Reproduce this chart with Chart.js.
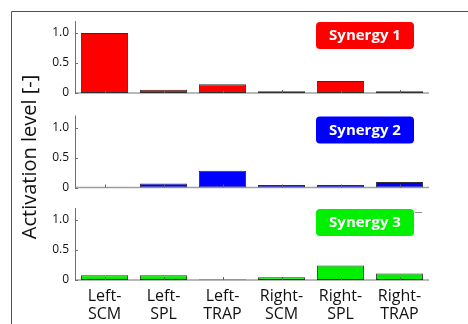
<!DOCTYPE html>
<html>
<head>
<meta charset="utf-8">
<script src="https://cdn.jsdelivr.net/npm/chart.js@4/dist/chart.umd.min.js"></script>
<style>
  html, body { margin: 0; padding: 0; background: #fff; }
  #wrap { position: relative; width: 468px; height: 324px; overflow: hidden; }
  #wrap canvas { position: absolute; left: 0; top: 0; }
</style>
</head>
<body>
<div id="wrap">
  <canvas id="c1" width="468" height="324"></canvas>
  <canvas id="c2" width="468" height="324"></canvas>
  <canvas id="c3" width="468" height="324"></canvas>
</div>
<script>
// Muscles along the x axis (two-line labels)
const muscles = [['Left-', 'SCM'], ['Left-', 'SPL'], ['Left-', 'TRAP'], ['Right-', 'SCM'], ['Right-', 'SPL'], ['Right-', 'TRAP']];

// Activation level of each muscle for each synergy
const synergy1 = [1.00, 0.055, 0.145, 0.03, 0.20, 0.03];
const synergy2 = [0.003, 0.065, 0.28, 0.04, 0.04, 0.09];
const synergy3 = [0.08, 0.08, 0.01, 0.045, 0.24, 0.11];

const synergyNames = ['Synergy 1', 'Synergy 2', 'Synergy 3'];
const yTicks = [0, 0.5, 1.0];
const yTitle = 'Activation level [-]';

const FONT = '"Open Sans", "Noto Sans", sans-serif';
const PLOT_LEFT = 75, PLOT_RIGHT = 429;

// Per-panel vertical placement: top and bottom of the plot area
const panels = [
  { id: 'c1', data: synergy1, color: '#ff0000', top: 21, bottom: 93, name: synergyNames[0], last: false },
  { id: 'c2', data: synergy2, color: '#0000ff', top: 115.5, bottom: 187.5, name: synergyNames[1], last: false },
  { id: 'c3', data: synergy3, color: '#00f000', top: 208, bottom: 280, name: synergyNames[2], last: true }
];

// Draws axis lines, inward ticks and the synergy badge
const panelDecor = {
  id: 'panelDecor',
  beforeDatasetsDraw(chart) {
    const ctx = chart.ctx;
    const y = chart.scales.y;
    const a = chart.chartArea;
    ctx.save();
    // baseline
    ctx.strokeStyle = '#a0a0a0';
    ctx.lineWidth = 1.6;
    ctx.beginPath();
    ctx.moveTo(a.left, y.getPixelForValue(0));
    ctx.lineTo(a.right, y.getPixelForValue(0));
    ctx.stroke();
    ctx.restore();
  },
  afterDatasetsDraw(chart, args, opts) {
    const ctx = chart.ctx;
    const x = chart.scales.x, y = chart.scales.y;
    const a = chart.chartArea;
    ctx.save();
    // y axis line
    ctx.strokeStyle = '#707070';
    ctx.lineWidth = 1;
    ctx.beginPath();
    ctx.moveTo(a.left + 0.5, a.top);
    ctx.lineTo(a.left + 0.5, y.getPixelForValue(0));
    ctx.stroke();
    // inward y ticks
    yTicks.forEach(v => {
      const py = Math.round(y.getPixelForValue(v)) + 0.5;
      ctx.beginPath();
      ctx.moveTo(a.left, py);
      ctx.lineTo(a.left + 3, py);
      ctx.stroke();
    });
    // inward x ticks at category centres
    ctx.strokeStyle = '#606060';
    for (let i = 0; i < muscles.length; i++) {
      const px = Math.round(x.getPixelForValue(i)) + 0.5;
      const py = y.getPixelForValue(0);
      ctx.beginPath();
      ctx.moveTo(px, py);
      ctx.lineTo(px, py - 3);
      ctx.stroke();
    }
    // badge
    const bx = 316, bw = 98, bh = 27, by = a.top + 1;
    ctx.fillStyle = opts.color;
    ctx.beginPath();
    ctx.roundRect(bx, by, bw, bh, 4);
    ctx.fill();
    ctx.fillStyle = '#ffffff';
    ctx.font = 'bold 15px ' + FONT;
    ctx.textAlign = 'center';
    ctx.textBaseline = 'middle';
    ctx.fillText(opts.name, bx + bw / 2, by + bh / 2 + 0.5);
    ctx.restore();
  }
};

// Outer frame and shared y-axis title (drawn once)
const frameDecor = {
  id: 'frameDecor',
  beforeDraw(chart) {
    const ctx = chart.ctx;
    ctx.save();
    ctx.strokeStyle = '#505050';
    ctx.lineWidth = 1;
    ctx.beginPath();
    ctx.moveTo(11.5, 330);
    ctx.lineTo(11.5, 11.5);
    ctx.lineTo(470, 11.5);
    ctx.stroke();
    ctx.strokeStyle = '#909090';
    ctx.beginPath();
    ctx.moveTo(415, 212.5);
    ctx.lineTo(422, 212.5);
    ctx.stroke();
    ctx.fillStyle = '#111111';
    ctx.font = '20px ' + FONT;
    ctx.textAlign = 'center';
    ctx.textBaseline = 'middle';
    ctx.translate(30, 157);
    ctx.rotate(-Math.PI / 2);
    ctx.fillText(yTitle, 0, 0);
    ctx.restore();
  }
};

panels.forEach((p, idx) => {
  const xHeight = p.last ? 44 : 0;
  const plugins = [panelDecor];
  if (idx === 0) plugins.unshift(frameDecor);
  new Chart(document.getElementById(p.id), {
    type: 'bar',
    data: {
      labels: muscles,
      datasets: [{
        data: p.data,
        backgroundColor: p.color,
        borderColor: '#303030',
        borderWidth: 1,
        borderSkipped: false,
        barPercentage: 0.8,
        categoryPercentage: 1.0
      }]
    },
    options: {
      responsive: false,
      animation: false,
      events: [],
      layout: {
        padding: { left: PLOT_LEFT - 30, right: 468 - PLOT_RIGHT, top: p.top, bottom: 324 - p.bottom - xHeight }
      },
      plugins: {
        legend: { display: false },
        tooltip: { enabled: false },
        panelDecor: { color: p.color, name: p.name }
      },
      scales: {
        x: {
          grid: { display: false, drawTicks: false },
          border: { display: false },
          ticks: {
            display: p.last,
            color: '#111111',
            font: { family: FONT, size: 16, lineHeight: 1.1 },
            padding: 8,
            maxRotation: 0,
            autoSkip: false
          },
          afterFit(s) { s.height = xHeight; }
        },
        y: {
          min: 0,
          max: 1.2,
          grid: { display: false, drawTicks: false },
          border: { display: false },
          ticks: {
            color: '#111111',
            font: { family: FONT, size: 12 },
            padding: 6,
            callback: v => (v === 0 ? '0' : v.toFixed(1))
          },
          afterBuildTicks(s) { s.ticks = yTicks.map(v => ({ value: v })); },
          afterFit(s) { s.width = 30; }
        }
      }
    },
    plugins: plugins
  });
});
</script>
</body>
</html>
